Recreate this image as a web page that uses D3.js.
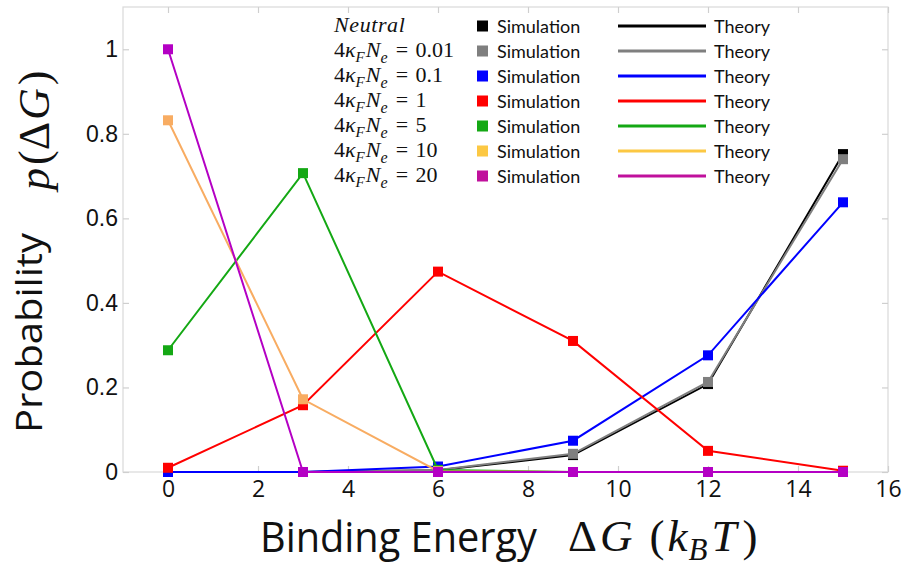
<!DOCTYPE html>
<html>
<head>
<meta charset="utf-8">
<script src="https://cdn.jsdelivr.net/npm/d3@7"></script>
<style>
  body { margin: 0; background: #fff; }
  svg { display: block; }
</style>
</head>
<body>
<svg id="chart" width="902" height="566"></svg>
<script>
// binding energies (kBT) where the probabilities are given
const energies = [0, 3, 6, 9, 12, 15];

// legend labels: 4 kappa_F N_e values
const seriesNames = ["Neutral", "0.01", "0.1", "1", "5", "10", "20"];

// p(dG) for each selection strength
const neutral = [0, 0, 0.004, 0.040, 0.208, 0.752];
const k001    = [0, 0, 0.005, 0.043, 0.213, 0.740];
const k01     = [0, 0, 0.013, 0.074, 0.276, 0.638];
const k1      = [0.010, 0.158, 0.474, 0.310, 0.050, 0.003];
const k5      = [0.288, 0.707, 0.005, 0, 0, 0];
const k10     = [0.832, 0.172, 0.002, 0, 0, 0];
const k20     = [1.000, 0, 0, 0, 0, 0];

const xTicks = [0, 2, 4, 6, 8, 10, 12, 14, 16];
const yTicks = [0, 0.2, 0.4, 0.6, 0.8, 1];

const allSeries = [neutral, k001, k01, k1, k5, k10, k20];
const plotColors   = ["#000000", "#7f7f7f", "#0000ff", "#ff0000", "#14a814", "#f8ac62", "#b400c4"];
const legendColors = ["#000000", "#7f7f7f", "#0000ff", "#ff0000", "#14a814", "#fcc843", "#c0109c"];

const svg = d3.select("#chart");

const margin = {left: 123, right: 888, top: 7, bottom: 472};

const x = d3.scaleLinear()
    .domain([-1, 16])
    .range([margin.left, margin.right]);

const y = d3.scaleLinear()
    .domain([0, 1.1])
    .range([margin.bottom, margin.top]);

// frame
svg.append("rect")
    .attr("x", margin.left)
    .attr("y", margin.top)
    .attr("width", margin.right - margin.left)
    .attr("height", margin.bottom - margin.top)
    .attr("fill", "none")
    .attr("stroke", "#d9d9d9")
    .attr("stroke-width", 1.2);

const tickColor = "#cfcfcf";

const xAxis = svg.append("g")
    .attr("transform", `translate(0,${margin.bottom})`)
    .call(d3.axisBottom(x).tickValues(xTicks).tickSize(-6).tickPadding(9).tickFormat(d => String(d)));

const yAxis = svg.append("g")
    .attr("transform", `translate(${margin.left},0)`)
    .call(d3.axisLeft(y).tickValues(yTicks).tickSize(-6).tickPadding(5).tickFormat(d => String(d)));

const topAxis = svg.append("g")
    .attr("transform", `translate(0,${margin.top})`)
    .call(d3.axisTop(x).tickValues(xTicks).tickSize(-6).tickFormat(""));

const rightAxis = svg.append("g")
    .attr("transform", `translate(${margin.right},0)`)
    .call(d3.axisRight(y).tickValues(yTicks).tickSize(-6).tickFormat(""));

[xAxis, yAxis, topAxis, rightAxis].forEach(g => {
    g.select(".domain").remove();
    g.selectAll(".tick line").attr("stroke", tickColor).attr("stroke-width", 1.2);
});

xAxis.selectAll(".tick text")
    .attr("fill", "#111")
    .style("font-family", "'Open Sans', sans-serif")
    .style("font-size", "23px");

yAxis.selectAll(".tick text")
    .attr("fill", "#111")
    .style("font-family", "'Liberation Sans', Arial, sans-serif")
    .style("font-size", "23px");

// series: theory lines + simulation squares
const line = d3.line()
    .x((d, i) => x(energies[i]))
    .y(d => y(d));

const markerSize = 10;

allSeries.forEach((values, s) => {
    const g = svg.append("g");
    g.append("path")
        .datum(values)
        .attr("d", line)
        .attr("fill", "none")
        .attr("stroke", plotColors[s])
        .attr("stroke-width", 2);
    g.selectAll("rect")
        .data(values)
        .join("rect")
        .attr("x", (d, i) => x(energies[i]) - markerSize / 2)
        .attr("y", d => y(d) - markerSize / 2)
        .attr("width", markerSize)
        .attr("height", markerSize)
        .attr("fill", plotColors[s]);
});

// legend
const legend = svg.append("g");
const rowY = i => 26 + i * 25;
const mathFont = "'Liberation Serif', 'Times New Roman', serif";
const legendFont = "Lato, 'Open Sans', sans-serif";

seriesNames.forEach((name, i) => {
    const t = legend.append("text")
        .attr("x", 334)
        .attr("y", rowY(i) + 6)
        .style("font-family", mathFont)
        .style("font-size", "22px")
        .attr("fill", "#111");
    if (i === 0) {
        t.style("letter-spacing", "0.6px");
        t.append("tspan").style("font-style", "italic").text(name);
    } else {
        t.append("tspan").text("4");
        t.append("tspan").style("font-style", "italic").text("κ");
        t.append("tspan").style("font-style", "italic").style("font-size", "15px").attr("dy", 5).text("F");
        t.append("tspan").style("font-style", "italic").attr("dy", -5).attr("dx", 1).text("N");
        t.append("tspan").style("font-style", "italic").style("font-size", "16px").attr("dy", 6).text("e");
        t.append("tspan").attr("dy", -6).attr("dx", 1).text("\u2004=\u2004" + name);
    }

    legend.append("rect")
        .attr("x", 477)
        .attr("y", rowY(i) - 5.5)
        .attr("width", 11)
        .attr("height", 11)
        .attr("fill", legendColors[i]);

    legend.append("text")
        .attr("x", 497)
        .attr("y", rowY(i) + 6.5)
        .style("font-family", legendFont)
        .style("font-size", "18px")
        .attr("fill", "#111")
        .text("Simulation");

    legend.append("line")
        .attr("x1", 618)
        .attr("x2", 706)
        .attr("y1", rowY(i))
        .attr("y2", rowY(i))
        .attr("stroke", legendColors[i])
        .attr("stroke-width", 3);

    legend.append("text")
        .attr("x", 714)
        .attr("y", rowY(i) + 6.5)
        .style("font-family", legendFont)
        .style("font-size", "18px")
        .attr("fill", "#111")
        .text("Theory");
});

// x-axis title
svg.append("text")
    .attr("x", 260)
    .attr("y", 552)
    .attr("textLength", 277)
    .attr("lengthAdjust", "spacingAndGlyphs")
    .style("font-family", "'Open Sans', sans-serif")
    .style("font-size", "42px")
    .attr("fill", "#111")
    .text("Binding Energy");

const xm = svg.append("text")
    .attr("x", 568)
    .attr("y", 551)
    .style("font-family", mathFont)
    .style("font-size", "45px")
    .attr("fill", "#111");
xm.append("tspan").text("Δ");
xm.append("tspan").style("font-style", "italic").attr("dx", 3).text("G");
xm.append("tspan").attr("dx", 17).text("(");
xm.append("tspan").style("font-style", "italic").attr("dx", 3).text("k");
xm.append("tspan").style("font-style", "italic").style("font-size", "31px").attr("dy", 9).attr("dx", 1).text("B");
xm.append("tspan").style("font-style", "italic").attr("dy", -9).attr("dx", 4).text("T");
xm.append("tspan").attr("dx", 6).text(")");

// y-axis title
svg.append("text")
    .attr("transform", "translate(42,433) rotate(-90)")
    .attr("textLength", 200)
    .attr("lengthAdjust", "spacingAndGlyphs")
    .style("font-family", "'Open Sans', sans-serif")
    .style("font-size", "36px")
    .attr("fill", "#111")
    .text("Probability");

const ym = svg.append("text")
    .attr("transform", "translate(49,190) rotate(-90)")
    .style("font-family", mathFont)
    .style("font-size", "44px")
    .attr("fill", "#111");
ym.append("tspan").style("font-style", "italic").text("p");
ym.append("tspan").attr("dx", 3).text("(Δ");
ym.append("tspan").style("font-style", "italic").attr("dx", 2).text("G");
ym.append("tspan").attr("dx", 3).text(")");
</script>
</body>
</html>
